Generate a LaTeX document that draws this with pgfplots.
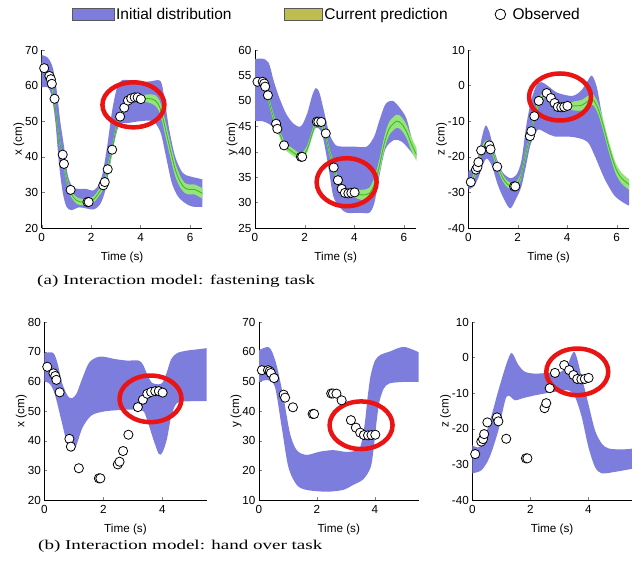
\documentclass[border=0pt]{standalone}
\usepackage{fontspec}
\setmainfont{Liberation Sans}
\newfontfamily\capfont{Liberation Serif}
\usepackage{pgfplots}
\pgfplotsset{compat=1.18}
\usepgfplotslibrary{fillbetween}

\definecolor{bandblue}{RGB}{125,125,222}
\definecolor{bandgreen}{RGB}{150,228,120}
\definecolor{predgreen}{RGB}{55,190,35}
\definecolor{legendgreen}{RGB}{190,190,80}
\definecolor{ringred}{RGB}{235,20,20}

% observed trajectory, shared by both rows
\pgfplotstableread{
t     x     y      z
0.10  64.9  53.75  -27.1
0.31  62.7  53.75  -23.6
0.37  61.8  53.4   -22.9
0.41  60.5  52.8   -21.5
0.52  56.3  51.1   -18.2
0.85  40.6  45.5   -16.8
0.90  38.0  44.5   -17.9
1.17  30.7  41.25  -22.8
1.85  27.3  39.0   -28.3
1.90  27.3  39.0   -28.3
2.49  32.0  45.9   -14.2
2.55  32.9  45.9   -12.8
2.67  36.5  45.85  -8.6
2.85  42.0  43.6   -4.3
3.17  51.3  36.9   -2.1
3.34  53.8  34.4   -3.5
3.49  55.8  32.7   -4.9
3.62  56.4  31.9   -6.0
3.76  56.7  31.8   -6.1
3.88  56.7  31.9   -6.0
4.01  56.2  32.0   -5.7
}\obsdata

\tikzset{ring/.style={ringred, line width=4.5pt}}
\pgfplotsset{
  panel/.style={
    scale only axis, anchor=south west,
    axis x line*=bottom, axis y line*=left,
    tick align=inside, major tick length=3pt,
    axis line style={line width=0.7pt},
    xmin=0,
    tick label style={font=\fontsize{11.7}{13}\selectfont},
    label style={font=\fontsize{11.7}{13}\selectfont},
    /pgf/number format/assume math mode=true,
    xticklabel shift=2pt, xlabel shift=3pt, ylabel shift=-6pt,
    xlabel={Time (s)},
  },
  obs/.style={only marks, mark=*, mark size=4.6pt,
    mark options={fill=white, draw=black, line width=0.8pt}},
  bandedge/.style={draw=none, smooth, tension=0.5, forget plot},
}

\begin{document}
\begin{tikzpicture}

% ---------- (a) fastening task ----------
\begin{axis}[panel, at={(41.7pt,339pt)}, width=160.7pt, height=178pt,
  xmax=6.5, ymin=20, ymax=70, xtick={0,2,4,6}, ytick={20,30,...,70},
  ylabel={x (cm)},
  legend columns=3,
  legend style={at={(axis description cs:0.187,1.2)}, anchor=west,
    draw=none, fill=none, inner sep=0pt,
    font=\fontsize{15.5}{17}\selectfont,
    /tikz/column 2/.style={column sep=50pt},
    /tikz/column 4/.style={column sep=45pt}},
  ]
\addlegendimage{legend image code/.code={\draw[fill=bandblue,draw=black!65,line width=0.6pt] (0pt,-6pt) rectangle (41.6pt,6pt);}}
\addlegendentry{Initial distribution}
\addlegendimage{legend image code/.code={\draw[fill=legendgreen,draw=black!65,line width=0.6pt] (0pt,-6pt) rectangle (38.3pt,6pt);}}
\addlegendentry{Current prediction}
\addlegendimage{legend image code/.code={\draw[black, line width=0.8pt] (5.8pt,0pt) circle (5.3pt); \path[draw=none] (16pt,0pt);}}
\addlegendentry{Observed}
\addplot[bandedge, name path=bu1] coordinates {(0,68.6)(0.25,67.8)(0.45,65)(0.6,59)(0.75,50)(0.9,43)(1.05,35)(1.25,31.5)(1.5,31)(1.8,31)(2.05,30.5)(2.25,31.5)(2.45,35)(2.65,43)(2.85,53)(3.05,59.5)(3.25,61.5)(3.6,61.5)(4.0,61)(4.4,61.2)(4.8,61.3)(4.95,57)(5.15,48)(5.4,40)(5.7,35.5)(6.0,34.5)(6.3,34)(6.6,33.5)};
\addplot[bandedge, name path=bl1] coordinates {(0,59.5)(0.25,59.5)(0.4,57)(0.55,50)(0.7,38)(0.85,30)(1.0,26)(1.2,25)(1.5,25.8)(1.8,25.5)(2.1,25.2)(2.35,26.5)(2.55,30)(2.75,37)(2.95,44.5)(3.15,49)(3.5,49.5)(4.0,50)(4.5,50)(4.8,47)(5.0,41)(5.25,33)(5.5,29)(5.8,27)(6.1,26)(6.6,26)};
\addplot[bandblue, forget plot] fill between[of=bu1 and bl1];
\addplot[bandedge, name path=gu1] coordinates {(0,66.5)(0.3,63.6)(0.5,57.8)(0.65,49)(0.8,42)(0.9,38.5)(1.05,33.5)(1.2,30.4)(1.4,28.7)(1.6,28.2)(1.85,28.2)(2.1,28.9)(2.3,30.7)(2.5,33)(2.65,37)(2.85,43)(3.0,48.5)(3.15,52.3)(3.35,55)(3.55,56.7)(3.75,57.5)(4.0,57.3)(4.3,57.5)(4.6,57.3)(4.8,55.2)(5.0,50)(5.2,44)(5.4,38.4)(5.6,34.6)(5.8,32.6)(6.0,32.2)(6.2,32.2)(6.6,30.8)};
\addplot[bandedge, name path=gl1] coordinates {(0,64.5)(0.3,61.8)(0.5,55.8)(0.65,47)(0.8,40)(0.9,36.5)(1.05,31.5)(1.2,28.6)(1.4,26.9)(1.6,26.4)(1.85,26.4)(2.1,27.1)(2.3,28.9)(2.5,31)(2.65,35)(2.85,41)(3.0,46.5)(3.15,50.3)(3.35,53)(3.55,54.9)(3.75,55.7)(4.0,55.5)(4.3,55.3)(4.6,54.3)(4.8,51.8)(5.0,46)(5.2,40)(5.4,34.6)(5.6,31.4)(5.8,29.8)(6.0,29.4)(6.2,29.4)(6.6,27.8)};
\addplot[bandgreen, forget plot] fill between[of=gu1 and gl1];
\addplot[predgreen, line width=0.9pt, smooth, tension=0.5, forget plot] coordinates {(0,65.5)(0.1,64.9)(0.3,62.7)(0.4,60.8)(0.5,56.8)(0.65,48)(0.8,41)(0.9,37.5)(1.05,32.5)(1.2,29.5)(1.4,27.8)(1.6,27.3)(1.85,27.3)(2.1,28)(2.3,29.8)(2.5,32)(2.65,36)(2.85,42)(3.0,47.5)(3.15,51.3)(3.35,54)(3.55,55.8)(3.75,56.6)(4.0,56.4)(4.3,56.4)(4.6,55.8)(4.8,53.5)(5.0,48)(5.2,42)(5.4,36.5)(5.6,33)(5.8,31.2)(6.0,30.8)(6.2,30.8)(6.6,29.3)};
\addplot[obs, forget plot] table[x=t, y=x] \obsdata;
\draw[ring] (axis cs:3.71,54.6) ellipse [x radius=31pt, y radius=22.5pt];
\end{axis}

\begin{axis}[panel, at={(255pt,339pt)}, width=161.4pt, height=178pt,
  xmax=6.5, ymin=25, ymax=60, xtick={0,2,4,6}, ytick={25,30,...,60},
  ylabel={y (cm)}]
\addplot[bandedge, name path=bu2] coordinates {(0,58.2)(0.3,58.3)(0.55,57.5)(0.75,54)(0.95,51)(1.25,47.5)(1.55,45.5)(1.85,45)(2.1,47.5)(2.3,51)(2.45,52.5)(2.6,51.5)(2.8,47.5)(3.0,43.5)(3.25,41.3)(3.6,41)(4.0,41)(4.5,41)(4.8,43)(5.0,46)(5.25,49.3)(5.55,50)(5.85,48.5)(6.1,46.5)(6.35,42)(6.6,39.5)};
\addplot[bandedge, name path=bl2] coordinates {(0,46)(0.3,46)(0.55,45.5)(0.8,44.5)(1.0,43)(1.3,41.5)(1.6,39.8)(1.95,39)(2.2,42.4)(2.45,44.7)(2.7,43.5)(2.95,37.2)(3.15,31.3)(3.42,29)(3.7,28)(4.2,28)(4.6,28)(4.8,29.8)(5.0,35)(5.25,40.5)(5.6,42.3)(5.9,42)(6.2,40.5)(6.6,38)};
\addplot[bandblue] fill between[of=bu2 and bl2];
\addplot[bandedge, name path=gu2] coordinates {(0,54.5)(0.3,54.4)(0.42,53.5)(0.51,51.8)(0.7,48.2)(0.87,45.7)(1.0,44.2)(1.2,41.9)(1.5,40.7)(1.85,39.7)(2.1,41.2)(2.3,44.2)(2.47,46.5)(2.65,46.5)(2.83,44.3)(3.0,40.7)(3.18,37.6)(3.33,35.1)(3.5,33.4)(3.7,32.5)(4.0,32.6)(4.3,32.5)(4.6,32.9)(4.8,34.8)(5.0,38.3)(5.2,42.8)(5.4,45.8)(5.7,47.3)(5.9,46.8)(6.1,45.3)(6.3,42.8)(6.6,39.8)};
\addplot[bandedge, name path=gl2] coordinates {(0,53.1)(0.3,53.0)(0.42,52.1)(0.51,50.4)(0.7,46.8)(0.87,44.3)(1.0,42.8)(1.2,40.5)(1.5,39.3)(1.85,38.3)(2.1,39.8)(2.3,42.8)(2.47,45.1)(2.65,45.1)(2.83,42.9)(3.0,39.3)(3.18,36.2)(3.33,33.7)(3.5,32.0)(3.7,31.1)(4.0,31.0)(4.3,30.5)(4.6,30.7)(4.8,32.2)(5.0,35.7)(5.2,40.2)(5.4,43.2)(5.7,44.7)(5.9,44.2)(6.1,42.7)(6.3,40.2)(6.6,37.2)};
\addplot[bandgreen] fill between[of=gu2 and gl2];
\addplot[predgreen, line width=0.9pt, smooth, tension=0.5] coordinates {(0,53.8)(0.3,53.7)(0.42,52.8)(0.51,51.1)(0.7,47.5)(0.87,45)(1.0,43.5)(1.2,41.2)(1.5,40)(1.85,39)(2.1,40.5)(2.3,43.5)(2.47,45.8)(2.65,45.8)(2.83,43.6)(3.0,40)(3.18,36.9)(3.33,34.4)(3.5,32.7)(3.7,31.8)(4.0,31.8)(4.3,31.5)(4.6,31.8)(4.8,33.5)(5.0,37)(5.2,41.5)(5.4,44.5)(5.7,46)(5.9,45.5)(6.1,44)(6.3,41.5)(6.6,38.5)};
\addplot[obs] table[x=t, y=y] \obsdata;
\draw[ring] (axis cs:3.69,34.0) ellipse [x radius=30pt, y radius=24pt];
\end{axis}

\begin{axis}[panel, at={(468.3pt,339pt)}, width=160.7pt, height=178pt,
  xmax=6.5, ymin=-40, ymax=10, xtick={0,2,4,6}, ytick={-40,-30,...,10},
  ylabel={z (cm)}]
\addplot[bandedge, name path=bu3] coordinates {(0,-24)(0.2,-23)(0.4,-19.8)(0.55,-14.5)(0.7,-11.2)(0.85,-13)(1.0,-17)(1.2,-21.5)(1.4,-24.5)(1.7,-26)(1.95,-25)(2.15,-21)(2.35,-11)(2.55,-4)(2.75,0)(2.95,1)(3.2,0)(3.6,-2)(4.2,-2.9)(4.55,-1.5)(4.8,1)(5.0,2.8)(5.2,-0.5)(5.4,-8)(5.65,-16.5)(5.95,-22.6)(6.3,-26.5)(6.6,-28.3)};
\addplot[bandedge, name path=bl3] coordinates {(0,-29.2)(0.2,-28.5)(0.4,-26)(0.6,-22)(0.75,-20.5)(0.95,-22.5)(1.2,-28)(1.45,-32)(1.7,-34.5)(1.95,-31.5)(2.15,-28.3)(2.35,-22)(2.5,-17)(2.7,-13.5)(2.85,-12.3)(3.15,-13.3)(3.5,-14.3)(4.2,-14.4)(4.8,-15.7)(5.1,-19.5)(5.5,-26)(5.9,-30.8)(6.3,-33)(6.6,-34)};
\addplot[bandblue] fill between[of=bu3 and bl3];
\addplot[bandedge, name path=gu3] coordinates {(0,-26.6)(0.13,-26.1)(0.34,-22.7)(0.42,-20.6)(0.53,-17.6)(0.7,-15.4)(0.88,-15.9)(1.0,-18.1)(1.19,-21.9)(1.4,-25.1)(1.6,-26.9)(1.88,-27.4)(2.1,-25.1)(2.3,-19.1)(2.51,-13.1)(2.67,-7.7)(2.86,-3.6)(3.0,-2.1)(3.18,-1.3)(3.36,-2.6)(3.52,-4.0)(3.7,-5.0)(4.0,-4.9)(4.3,-4.4)(4.6,-4.0)(4.85,-2.8)(5.05,-2.5)(5.25,-5.0)(5.45,-9.5)(5.7,-16.0)(5.95,-21.5)(6.2,-24.5)(6.6,-26.8)};
\addplot[bandedge, name path=gl3] coordinates {(0,-28.4)(0.13,-27.9)(0.34,-24.5)(0.42,-22.4)(0.53,-19.4)(0.7,-17.2)(0.88,-17.7)(1.0,-19.9)(1.19,-23.7)(1.4,-26.9)(1.6,-28.7)(1.88,-29.2)(2.1,-26.9)(2.3,-20.9)(2.51,-14.9)(2.67,-9.5)(2.86,-5.4)(3.0,-3.9)(3.18,-3.1)(3.36,-4.4)(3.52,-5.8)(3.7,-6.8)(4.0,-6.7)(4.3,-7.0)(4.6,-7.0)(4.85,-5.8)(5.05,-5.5)(5.25,-8.0)(5.45,-12.5)(5.7,-19.0)(5.95,-24.5)(6.2,-27.5)(6.6,-29.8)};
\addplot[bandgreen] fill between[of=gu3 and gl3];
\addplot[predgreen, line width=0.9pt, smooth, tension=0.5] coordinates {(0,-27.5)(0.13,-27)(0.34,-23.6)(0.42,-21.5)(0.53,-18.5)(0.7,-16.3)(0.88,-16.8)(1.0,-19)(1.19,-22.8)(1.4,-26)(1.6,-27.8)(1.88,-28.3)(2.1,-26)(2.3,-20)(2.51,-14)(2.67,-8.6)(2.86,-4.5)(3.0,-3)(3.18,-2.2)(3.36,-3.5)(3.52,-4.9)(3.7,-5.9)(4.0,-5.8)(4.3,-5.7)(4.6,-5.5)(4.85,-4.3)(5.05,-4)(5.25,-6.5)(5.45,-11)(5.7,-17.5)(5.95,-23)(6.2,-26)(6.6,-28.3)};
\addplot[obs] table[x=t, y=z] \obsdata;
\draw[ring] (axis cs:3.71,-3.2) ellipse [x radius=31pt, y radius=23.5pt];
\end{axis}

% ---------- (b) hand over task ----------
\begin{axis}[panel, at={(44.3pt,67pt)}, width=162.3pt, height=178pt,
  xmax=5.5, ymin=20, ymax=80, xtick={0,2,4}, ytick={20,30,...,80},
  ylabel={x (cm)}]
\addplot[bandedge, name path=bu4] coordinates {(0,69.5)(0.3,69.6)(0.45,66)(0.6,59.5)(0.8,55)(0.95,54.3)(1.1,56)(1.25,60)(1.5,66)(1.75,68)(2.0,68.3)(2.4,67.5)(2.8,67)(3.2,67)(3.35,65.5)(3.5,62)(3.65,59.5)(3.85,59)(4.0,59.5)(4.15,63)(4.3,67.5)(4.5,69.5)(4.8,70.3)(5.2,70.8)(5.6,71.3)};
\addplot[bandedge, name path=bl4] coordinates {(0,60)(0.2,59)(0.36,55.5)(0.55,48)(0.72,41)(0.87,36.4)(1.05,37.5)(1.3,44.5)(1.6,48.5)(2.0,49.8)(2.5,50.3)(3.0,50.5)(3.35,50)(3.5,46.5)(3.7,40.3)(3.88,35.5)(4.0,36)(4.15,40.3)(4.3,48)(4.5,52.7)(5.0,53.3)(5.6,53.3)};
\addplot[bandblue] fill between[of=bu4 and bl4];
\addplot[obs] table[x=t, y=x] \obsdata;
\draw[ring] (axis cs:3.6,54.1) ellipse [x radius=31pt, y radius=23.3pt];
\end{axis}

\begin{axis}[panel, at={(259pt,67pt)}, width=159.5pt, height=178pt,
  xmax=5.5, ymin=10, ymax=70, xtick={0,2,4}, ytick={10,20,...,70},
  ylabel={y (cm)}]
\addplot[bandedge, name path=bu5] coordinates {(0,60.5)(0.3,61.6)(0.45,60)(0.62,54.9)(0.84,44.8)(1.07,32.4)(1.3,26.8)(1.64,25.2)(2.1,26.3)(2.56,26.8)(3.0,26.2)(3.3,26.5)(3.45,27)(3.55,30)(3.65,36)(3.75,45)(3.85,52)(4.0,57)(4.2,59)(4.5,60)(5.0,61.6)(5.6,59.4)};
\addplot[bandedge, name path=bl5] coordinates {(0,49.8)(0.3,50.4)(0.55,48.1)(0.78,34.7)(1.01,21.2)(1.3,15.1)(1.64,13.4)(2.33,12.8)(2.9,13.4)(3.25,15.1)(3.6,17)(3.85,21)(3.95,27)(4.05,36)(4.15,43)(4.3,47.5)(4.5,49.3)(5.0,49.8)(5.6,49.8)};
\addplot[bandblue] fill between[of=bu5 and bl5];
\addplot[obs] table[x=t, y=y] \obsdata;
\draw[ring] (axis cs:3.52,35.2) ellipse [x radius=31.5pt, y radius=23.8pt];
\end{axis}

\begin{axis}[panel, at={(472.3pt,67pt)}, width=159.5pt, height=178pt,
  xmax=5.5, ymin=-40, ymax=10, xtick={0,2,4}, ytick={-40,-30,...,10},
  ylabel={z (cm)}]
\addplot[bandedge, name path=bu6] coordinates {(0,-24.6)(0.26,-25)(0.55,-19.4)(0.9,-9.2)(1.18,-1.7)(1.36,1.3)(1.59,-2.1)(1.82,-4)(2.16,-4.5)(2.62,-4.3)(2.97,-4.3)(3.25,-2.6)(3.52,1.6)(3.77,-5.4)(4.0,-12.9)(4.23,-20.4)(4.46,-24.1)(4.69,-25.5)(5.15,-25.8)(5.6,-25.5)};
\addplot[bandedge, name path=bl6] coordinates {(0,-32.5)(0.32,-31.6)(0.6,-27.9)(0.9,-20.4)(1.18,-11)(1.47,-12)(1.7,-11.5)(2.16,-10.6)(2.85,-9.6)(3.31,-9.2)(3.54,-11)(3.77,-16.6)(4.0,-25)(4.23,-30.7)(4.46,-32.5)(4.92,-32.1)(5.6,-31.1)};
\addplot[bandblue] fill between[of=bu6 and bl6];
\addplot[obs] table[x=t, y=z] \obsdata;
\draw[ring] (axis cs:3.62,-4.0) ellipse [x radius=31pt, y radius=23.3pt];
\end{axis}

\node[anchor=base west, inner sep=0pt] at (37pt,282.7pt)
  {\resizebox{278pt}{\height}{\capfont\fontsize{13.5}{15}\selectfont (a) Interaction model: fastening task}};
\node[anchor=base west, inner sep=0pt] at (38pt,17pt)
  {\resizebox{284pt}{\height}{\capfont\fontsize{13.5}{15}\selectfont (b) Interaction model: hand over task}};

\pgfresetboundingbox
\path[use as bounding box] (0,0) rectangle (635pt,567pt);
\end{tikzpicture}
\end{document}
